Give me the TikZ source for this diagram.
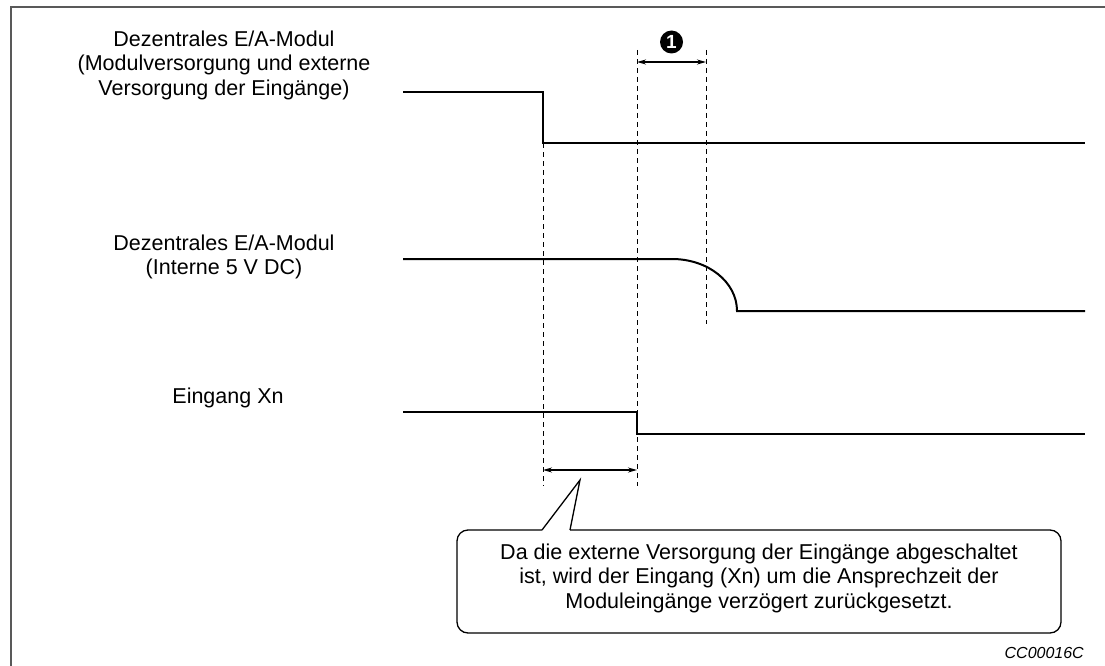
\documentclass[tikz,border=0pt]{standalone}
\usepackage{fontspec}
\setmainfont{Liberation Sans}
\usetikzlibrary{arrows.meta}
\begin{document}
\begin{tikzpicture}[x=1pt,y=-1pt,
  lbl/.style={align=center,inner sep=0pt,font=\fontsize{21.5}{24.5}\selectfont},
  sig/.style={line width=2pt,line join=miter},
  guide/.style={line width=1pt,dash pattern=on 5pt off 4pt},
  span/.style={line width=1.3pt,{Stealth[length=9pt,width=5pt]}-{Stealth[length=9pt,width=5pt]}},
  bubble/.style={line width=1.3pt},
  frame/.style={line width=1.6pt,draw=black!65}]
\useasboundingbox (0,0) rectangle (1105,666);

% outer frame (open to the right and bottom)
\draw[frame] (11,666) -- (11,7) -- (1105,7);

% signal labels
\node[lbl] (l1) at (224,65) {Dezentrales E/A-Modul\\(Modulversorgung und externe\\Versorgung der Eingänge)};
\node[lbl] (l2) at (224,257) {Dezentrales E/A-Modul\\(Interne 5 V DC)};
\node[lbl] (l3) at (228,398) {Eingang Xn};

% signal 1: module and external supply
\draw[sig] (403,92) -- (543,92) -- (543,143) -- (1085,143);
% signal 2: internal 5 V DC, decaying
\draw[sig] (403,259) -- (672,259) .. controls (708,259) and (737,282) .. (737,311) -- (1085,311);
% signal 3: input Xn
\draw[sig] (403,412) -- (637,412) -- (637,434) -- (1085,434);

% dashed guide lines
\coordinate (gA1) at (543,143); \coordinate (gA2) at (543,486);
\coordinate (gB1) at (637,50);  \coordinate (gB2) at (637,486);
\coordinate (gC1) at (706,50);  \coordinate (gC2) at (706,324);
\draw[guide] (gA1) -- (gA2);
\draw[guide] (gB1) -- (gB2);
\draw[guide] (gC1) -- (gC2);

% interval arrows
\coordinate (aT1) at (637,62); \coordinate (aT2) at (706,62);
\coordinate (aB1) at (543,470); \coordinate (aB2) at (637,470);
\draw[span] (aT1) -- (aT2);
\draw[span] (aB1) -- (aB2);

% numbered marker
\node[circle,fill=black,minimum size=23pt,inner sep=0pt,text=white,font=\fontsize{19}{19}\selectfont\bfseries] (n1) at (671.5,42) {1};

% callout box with pointer
\coordinate (pL) at (542,530);
\coordinate (pR) at (570,530);
\coordinate (tip) at (580,480);
\draw[bubble,rounded corners=11pt] (pL) -- (457,530) -- (457,633) -- (1061,633) -- (1061,530) -- (pR);
\draw[bubble,line join=miter] (pL) -- (tip) -- (pR);
\node[lbl] (note) at (759,578) {Da die externe Versorgung der Eingänge abgeschaltet\\ist, wird der Eingang (Xn) um die Ansprechzeit der\\Moduleingänge verzögert zurückgesetzt.};

% drawing number
\node[inner sep=0pt,anchor=east,font=\fontsize{16}{16}\selectfont\itshape] (code) at (1084,653) {CC00016C};
\end{tikzpicture}
\end{document}
